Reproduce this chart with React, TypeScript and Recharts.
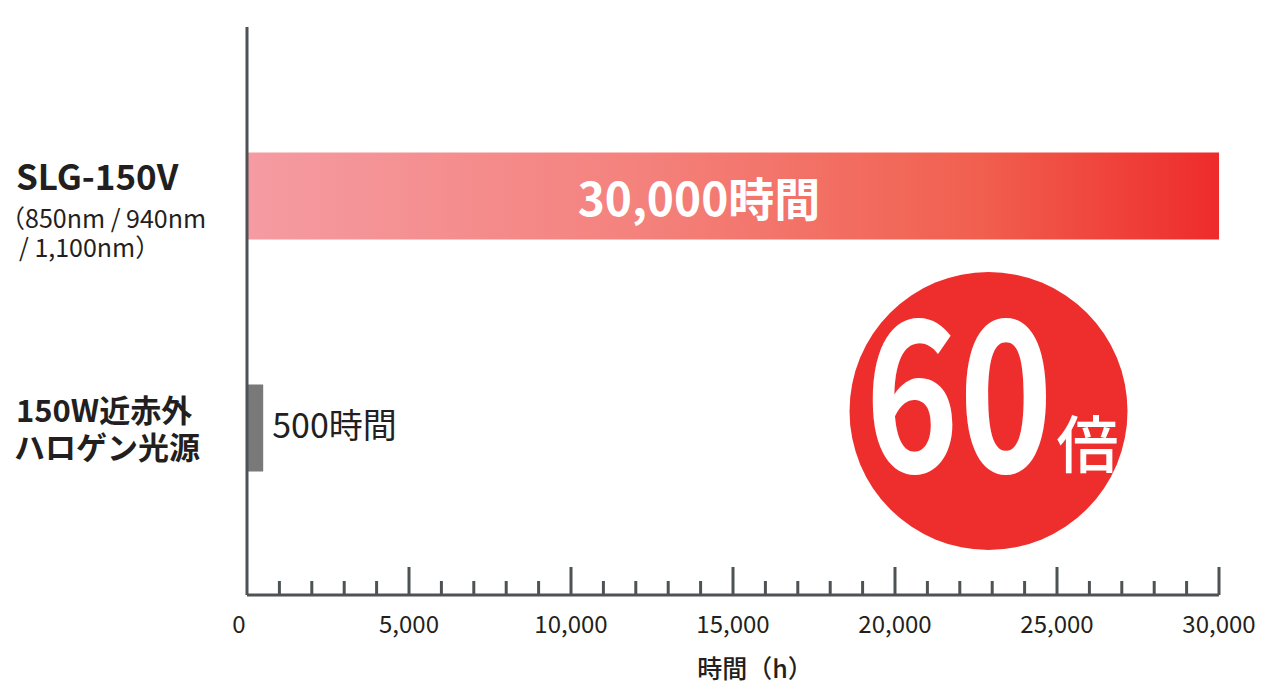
import { BarChart, Bar, XAxis, YAxis, Cell, LabelList, ReferenceDot } from 'recharts';

const categories = ['SLG-150V', '150W近赤外ハロゲン光源'];
const hours = [30000, 500];
const ratioLabel = '60';
const ratioUnit = '倍';
const xTicks = [
  0, 1000, 2000, 3000, 4000, 5000, 6000, 7000, 8000, 9000, 10000,
  11000, 12000, 13000, 14000, 15000, 16000, 17000, 18000, 19000, 20000,
  21000, 22000, 23000, 24000, 25000, 26000, 27000, 28000, 29000, 30000,
];
const xTitle = '時間（h）';

const data = categories.map((name, i) => ({ name, hours: hours[i] }));

const FONT = '"Noto Sans CJK JP", "Noto Sans", sans-serif';
const INK = '#231f20';
const AXIS = '#4d5254';
const AXIS_Y = 595;

const renderXTick = (props: any) => {
  const { x, payload } = props;
  const v = payload.value as number;
  const major = v % 5000 === 0;
  const len = v === 0 ? 0 : major ? 28 : 14;
  return (
    <g>
      {len > 0 && (
        <line x1={x} x2={x} y1={AXIS_Y} y2={AXIS_Y - len} stroke={AXIS} strokeWidth={3} />
      )}
      {major && (
        <text
          x={v === 0 ? x - 8 : x}
          y={633}
          textAnchor="middle"
          fontFamily={FONT}
          fontSize={24}
          fill={INK}
        >
          {v.toLocaleString('en-US')}
        </text>
      )}
    </g>
  );
};

const renderYTick = (props: any) => {
  const { y, payload } = props;
  if (payload.value === categories[0]) {
    return (
      <g fontFamily={FONT} fill={INK}>
        <text x={16} y={y - 5.5} fontSize={35} fontWeight={700}>SLG-150V</text>
        <text x={0} y={y + 32.5} fontSize={25}>（850nm / 940nm</text>
        <text x={19} y={y + 61.5} fontSize={25}> / 1,100nm）</text>
      </g>
    );
  }
  return (
    <g fontFamily={FONT} fill={INK} fontWeight={700}>
      <text x={16} y={y - 5.5} fontSize={31}>150W近赤外</text>
      <text x={14} y={y + 31.5} fontSize={31}>ハロゲン光源</text>
    </g>
  );
};

const renderBarLabel = (props: any) => {
  const { x, y, width, height, value } = props;
  const text = `${Number(value).toLocaleString('en-US')}時間`;
  if (value >= 10000) {
    return (
      <text
        x={x + width * 0.465}
        y={y + height / 2 + 20}
        textAnchor="middle"
        fontFamily={FONT}
        fontSize={46}
        fontWeight={700}
        fill="#ffffff"
      >
        {text}
      </text>
    );
  }
  return (
    <text
      x={x + width + 9}
      y={y + height / 2 + 10}
      fontFamily={FONT}
      fontSize={34}
      fill={INK}
    >
      {text}
    </text>
  );
};

const renderBadge = (props: any) => {
  const { cx, cy } = props;
  const c = cy - 16.5;
  return (
    <g>
      <circle cx={cx} cy={c} r={139} fill="#ee2e2d" />
      <text
        x={cx - 123.5}
        y={c + 61}
        fontFamily={FONT}
        fontSize={210}
        fontWeight={700}
        fill="#ffffff"
        textLength={188}
        lengthAdjust="spacingAndGlyphs"
      >
        {ratioLabel}
      </text>
      <text x={cx + 68} y={c + 57} fontFamily={FONT} fontSize={62} fontWeight={500} fill="#ffffff">
        {ratioUnit}
      </text>
    </g>
  );
};

const App = () => {
  return (
    <div style={{ position: 'absolute', left: 0, top: 0, background: '#fff' }}>
      <BarChart
        width={1266}
        height={698}
        data={data}
        layout="vertical"
        margin={{ top: 27, right: 47, bottom: 0, left: 0 }}
      >
        <defs>
          <linearGradient id="slgGrad" x1="0" y1="0" x2="1" y2="0">
            <stop offset="0%" stopColor="#f59ba2" />
            <stop offset="40%" stopColor="#f4827d" />
            <stop offset="75%" stopColor="#f1604f" />
            <stop offset="100%" stopColor="#ee2b2b" />
          </linearGradient>
        </defs>
        <XAxis
          type="number"
          domain={[0, 30000]}
          ticks={xTicks}
          interval={0}
          height={103}
          tickLine={false}
          axisLine={{ stroke: AXIS, strokeWidth: 3 }}
          tick={renderXTick}
          label={{
            value: xTitle,
            position: 'insideBottom',
            offset: 20,
            dx: 22,
            fontFamily: FONT,
            fontSize: 25,
            fontWeight: 500,
            fill: INK,
          }}
        />
        <YAxis
          type="category"
          dataKey="name"
          width={247}
          padding={{ top: 52.5, bottom: 51.5 }}
          tickLine={false}
          axisLine={{ stroke: AXIS, strokeWidth: 3 }}
          tick={renderYTick}
        />
        <Bar dataKey="hours" barSize={87} isAnimationActive={false}>
          <Cell fill="url(#slgGrad)" />
          <Cell fill="#797979" />
          <LabelList dataKey="hours" content={renderBarLabel} />
        </Bar>
        <ReferenceDot
          x={22886}
          y={categories[1]}
          r={139}
          ifOverflow="visible"
          shape={renderBadge}
        />
      </BarChart>
    </div>
  );
};

export default App;
